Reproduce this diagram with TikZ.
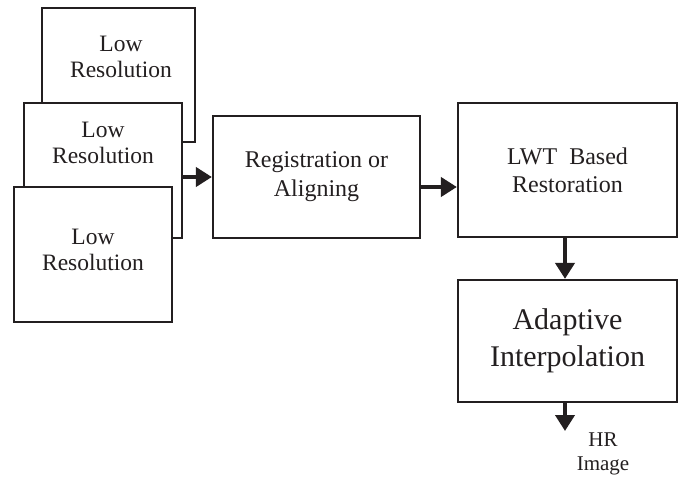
\documentclass[tikz,border=0pt]{standalone}
\usepackage{fontspec}
\setmainfont{Liberation Serif}
\usetikzlibrary{arrows.meta}
\definecolor{ink}{RGB}{35,31,32}
\begin{document}
\begin{tikzpicture}[x=1pt,y=-1pt,line width=2.2pt,draw=ink,text=ink,
    inner sep=0pt,
    blk/.style={draw,fill=white,rectangle},
    txt/.style={align=center,font=\fontsize{23.5}{26}\selectfont},
    arr/.style={-{Triangle[length=16pt,width=19pt]},line width=4pt,draw=ink}]
    \path[use as bounding box] (0,0) rectangle (680,479);
    % stack of low resolution frames
    \node[blk,minimum width=153pt,minimum height=134pt] (lowa) at (118.5,75) {};
    \node[txt] (lowat) at (121,57) {Low\\Resolution};
    \node[blk,minimum width=158pt,minimum height=135pt] (lowb) at (103,170.5) {};
    \node[txt] (lowbt) at (103,143) {Low\\Resolution};
    \node[blk,minimum width=158pt,minimum height=135pt] (lowc) at (93,254.5) {};
    \node[txt] (lowct) at (93,250) {Low\\Resolution};
    % processing chain
    \node[blk,txt,font=\fontsize{24}{29}\selectfont,minimum width=207pt,minimum height=122pt] (reg) at (316.5,177) {Registration or\\Aligning};
    \node[blk,txt,font=\fontsize{24}{28}\selectfont,minimum width=219pt,minimum height=134pt] (lwt) at (567.5,170) {LWT~~Based\\Restoration};
    \node[blk,txt,font=\fontsize{30}{37}\selectfont,minimum width=219pt,minimum height=122pt] (adapt) at (567.5,341) {Adaptive\\Interpolation};
    \node[txt,font=\fontsize{21}{24}\selectfont] (hr) at (603,454) {HR\\Image};
    \coordinate (out) at (565,431);
    \draw[arr] (lowb.east |- reg.west) -- (reg.west);
    \draw[arr] ([yshift=-10pt]reg.east) -- ([yshift=-10pt]reg.east -| lwt.west);
    \draw[arr] ([xshift=-2.5pt]lwt.south) -- ([xshift=-2.5pt]adapt.north);
    \draw[arr] ([xshift=-2.5pt]adapt.south) -- (out);
  \end{tikzpicture}
\end{document}
